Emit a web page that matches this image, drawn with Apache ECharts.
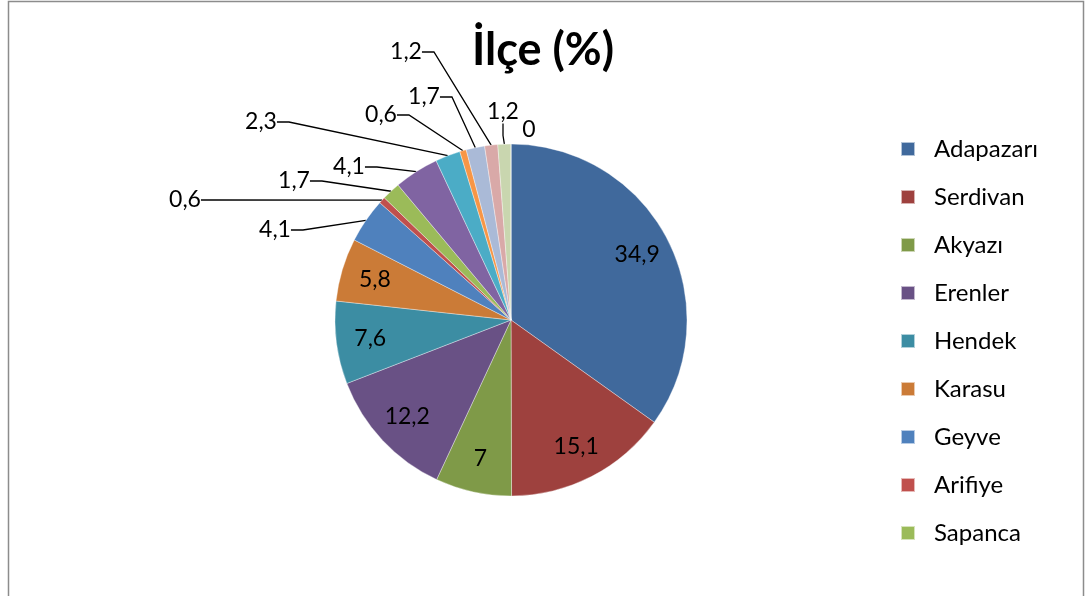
<!DOCTYPE html>
<html>
<head>
<meta charset="utf-8">
<script src="https://cdn.jsdelivr.net/npm/echarts@6/dist/echarts.min.js"></script>
<style>
  html, body { margin: 0; padding: 0; background: #fff; }
  #chart { width: 1086px; height: 596px; }
</style>
</head>
<body>
<div id="chart"></div>
<script>
// District shares (%) in drawing order, clockwise from twelve o'clock
const districts = ['Adapazarı', 'Serdivan', 'Akyazı', 'Erenler', 'Hendek', 'Karasu', 'Geyve', 'Arifiye',
                   'Sapanca', 'Pamukova', 'Ferizli', 'Kocaali', 'Söğütlü', 'Kaynarca', 'Taraklı', 'Karapürçek'];
const shares = [34.9, 15.1, 7, 12.2, 7.6, 5.8, 4.1, 0.6, 1.7, 4.1, 2.3, 0.6, 1.7, 1.2, 1.2, 0];
const legendNames = districts.slice(0, 9);
const titleText = 'İlçe (%)';

// Slice fills
const palette = ['#40699c', '#9e413e', '#7f9a48', '#695185', '#3c8da3', '#cb7b37', '#4f81bd', '#c0504d',
                 '#9bbb59', '#8064a2', '#4bacc6', '#f79646', '#aabad7', '#d9a9a8', '#c9d6af', '#bab0c9'];

const CENTER = [511, 320];
const RADIUS = 176;
const INSIDE_COUNT = 6;      // first slices carry their value inside the pie
const INSIDE_PUSH = 1.56;    // moves inside labels from half radius outwards
// Hand-placed spots for the callout labels of the thin slices
const calloutSpots = {
  6: [275, 230], 7: [185, 200], 8: [294, 181], 9: [349, 167], 10: [261, 122],
  11: [381, 115], 12: [424, 97], 13: [406, 52], 14: [503, 112], 15: [529, 130]
};

const fmt = v => String(v).replace('.', ',');

const seriesData = shares.map((v, i) => {
  const inside = i < INSIDE_COUNT;
  return {
    name: districts[i],
    value: v,
    itemStyle: { color: palette[i] },
    label: { position: inside ? 'inside' : 'outside' },
    labelLine: { show: !inside && i !== 15 }
  };
});

const chart = echarts.init(document.getElementById('chart'), null, { renderer: 'canvas' });
chart.setOption({
  animation: false,
  backgroundColor: '#ffffff',
  title: {
    text: titleText,
    left: 'center',
    top: 28,
    padding: [0, 0, 0, 22],
    textStyle: { fontFamily: 'Lato', fontWeight: 'bold', fontSize: 45, color: '#000' }
  },
  legend: {
    orient: 'vertical',
    left: 900,
    top: 137,
    padding: 0,
    data: legendNames,
    icon: 'rect',
    itemWidth: 14,
    itemHeight: 14,
    itemGap: 24,
    selectedMode: false,
    textStyle: { fontFamily: 'Lato', fontSize: 24, lineHeight: 24, color: '#000', padding: [0, 0, 0, 14] }
  },
  graphic: [{
    type: 'rect',
    shape: { x: 8.5, y: 1.5, width: 1075, height: 700 },
    style: { fill: 'none', stroke: '#8c8c8c', lineWidth: 1.5 },
    silent: true
  }],
  series: [{
    type: 'pie',
    center: CENTER,
    radius: [0, RADIUS],
    startAngle: 90,
    clockwise: true,
    avoidLabelOverlap: false,
    silent: true,
    data: seriesData,
    itemStyle: { borderColor: 'rgba(255,255,255,0.6)', borderWidth: 0.6 },
    label: {
      show: true,
      formatter: p => fmt(p.value),
      fontFamily: 'Lato',
      fontSize: 23,
      color: '#000',
      alignTo: 'none'
    },
    labelLine: {
      length: 8,
      length2: 12,
      smooth: false,
      lineStyle: { color: '#000', width: 1.3 }
    },
    labelLayout: function (params) {
      const i = params.dataIndex;
      if (i < INSIDE_COUNT) {
        const r = params.labelRect;
        const cx = r.x + r.width / 2, cy = r.y + r.height / 2;
        return {
          x: CENTER[0] + (cx - CENTER[0]) * INSIDE_PUSH,
          y: CENTER[1] + (cy - CENTER[1]) * INSIDE_PUSH,
          align: 'center',
          verticalAlign: 'middle',
          hideOverlap: false
        };
      }
      const spot = calloutSpots[i];
      return { x: spot[0], y: spot[1], align: 'center', verticalAlign: 'middle', hideOverlap: false };
    }
  }]
});
</script>
</body>
</html>
